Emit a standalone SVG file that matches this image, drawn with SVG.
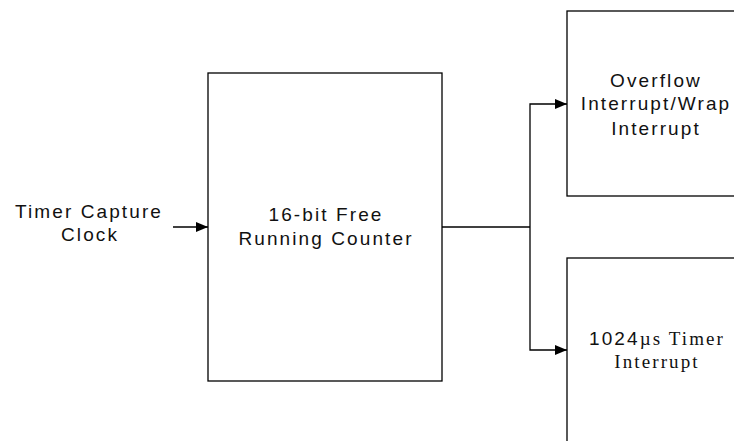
<svg xmlns="http://www.w3.org/2000/svg" width="734" height="441" viewBox="0 0 734 441">
<style>
.box{fill:#fff;stroke:#000;stroke-width:1.3}
.t{font-family:"Liberation Sans",Arial,sans-serif;font-size:19px;letter-spacing:2.1px;fill:#111;text-anchor:middle}
.s{font-family:"Liberation Serif","Times New Roman",serif}
.ln{fill:none;stroke:#000;stroke-width:1.3}
</style>
<defs>
<marker id="ah" viewBox="0 0 12 10" refX="12" refY="5" markerWidth="12" markerHeight="10" markerUnits="userSpaceOnUse" orient="auto">
<path d="M0,0 L12,5 L0,10 Z" fill="#000"/>
</marker>
</defs>
<g id="input-label">
<text class="t" x="89" y="218">Timer Capture</text>
<text class="t" x="90" y="241">Clock</text>
</g>
<g id="counter">
<rect class="box" x="208" y="73" width="234" height="308"/>
<text class="t" x="326" y="221">16-bit Free</text>
<text class="t" x="326" y="245">Running Counter</text>
</g>
<g id="overflow">
<rect class="box" x="567" y="11" width="190" height="185"/>
<text class="t" x="656" y="87">Overflow</text>
<text class="t" x="656" y="110">Interrupt/Wrap</text>
<text class="t" x="656" y="135">Interrupt</text>
</g>
<g id="timer1024">
<rect class="box" x="567" y="258" width="190" height="200"/>
<text class="t" x="657" y="345">1024<tspan class="s">µs Timer</tspan></text>
<text class="t s" x="657" y="368">Interrupt</text>
</g>
<g id="connectors">
<line class="ln" x1="173" y1="227" x2="208" y2="227" marker-end="url(#ah)"/>
<polyline class="ln" points="442,227 530,227"/>
<polyline class="ln" points="530,227 530,104 567,104" marker-end="url(#ah)"/>
<polyline class="ln" points="530,227 530,350 567,350" marker-end="url(#ah)"/>
</g>
</svg>
